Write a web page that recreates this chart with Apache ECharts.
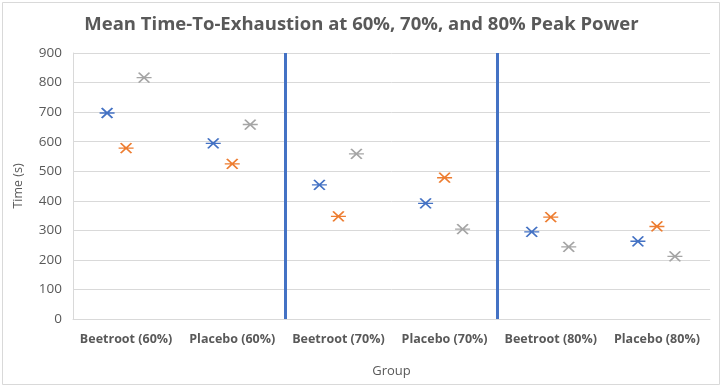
<!DOCTYPE html>
<html><head><meta charset="utf-8">
<script src="https://cdn.jsdelivr.net/npm/echarts@6/dist/echarts.min.js"></script>
<style>html,body{margin:0;padding:0;background:#fff}#c{width:723px;height:388px}</style>
</head><body><div id="c"></div>
<script>
const categories = ['Beetroot (60%)','Placebo (60%)','Beetroot (70%)','Placebo (70%)','Beetroot (80%)','Placebo (80%)'];
const seriesA = [697, 594, 454, 391, 295, 263];
const seriesB = [578, 525, 347, 478, 345, 313];
const seriesC = [817, 658, 559, 304, 244, 212];
const separators = [2, 4];
const yTicks = {min: 0, max: 900, interval: 100};

const star = 'path://M2,0L12,10M12,0L2,10M0,5L14,5';
function mk(data, color, off) {
  return {
    type: 'line', data: data, xAxisIndex: 0, yAxisIndex: 0,
    lineStyle: {width: 0, opacity: 0},
    symbol: star, symbolSize: [15, 10], symbolOffset: [off, 0],
    itemStyle: {color: 'rgba(0,0,0,0)', borderColor: color, borderWidth: 1.6},
    silent: true, z: 5
  };
}
const chart = echarts.init(document.getElementById('c'), null, {renderer: 'canvas'});
chart.setOption({
  animation: false,
  backgroundColor: '#fff',
  title: {
    text: 'Mean Time-To-Exhaustion at 60%, 70%, and 80% Peak Power',
    left: 'center', top: 10,
    textStyle: {fontFamily: 'Open Sans', fontSize: 18.5, fontWeight: 'bold', color: '#595959'}
  },
  graphic: [{type: 'rect', shape: {x: 2.5, y: 2.5, width: 717, height: 382}, style: {fill: 'none', stroke: '#d9d9d9', lineWidth: 1}, silent: true}],
  grid: {left: 73, top: 53, right: 13, bottom: 69, containLabel: false},
  xAxis: [{
    type: 'category', data: categories, boundaryGap: true,
    name: 'Group', nameLocation: 'middle', nameGap: 46,
    nameTextStyle: {fontFamily: 'Open Sans', fontSize: 13, color: '#595959'},
    axisLine: {show: true, lineStyle: {color: '#d9d9d9'}},
    axisTick: {show: false},
    axisLabel: {fontFamily: 'Open Sans', fontSize: 12.5, fontWeight: 'bold', color: '#595959', margin: 14, interval: 0}
  }, {
    type: 'value', min: 0, max: categories.length, show: false
  }],
  yAxis: [{
    type: 'value', min: yTicks.min, max: yTicks.max, interval: yTicks.interval,
    name: 'Time (s)', nameLocation: 'middle', nameGap: 48, nameRotate: 90,
    nameTextStyle: {fontFamily: 'Open Sans', fontSize: 12.5, color: '#595959'},
    axisLine: {show: true, lineStyle: {color: '#d9d9d9'}},
    axisTick: {show: false},
    splitLine: {lineStyle: {color: '#d9d9d9'}},
    axisLabel: {fontFamily: 'Open Sans', fontSize: 13.5, color: '#595959', margin: 11}
  }],
  series: [
    mk(seriesA, '#4472C4', -19),
    mk(seriesB, '#ED7D31', 0),
    mk(seriesC, '#A5A5A5', 18),
    {
      type: 'scatter', xAxisIndex: 1, yAxisIndex: 0, data: [], silent: true,
      markLine: {
        symbol: 'none', silent: true, label: {show: false},
        lineStyle: {color: '#4472C4', width: 3, type: 'solid'},
        data: separators.map(v => ({xAxis: v}))
      }
    }
  ]
});
</script></body></html>
